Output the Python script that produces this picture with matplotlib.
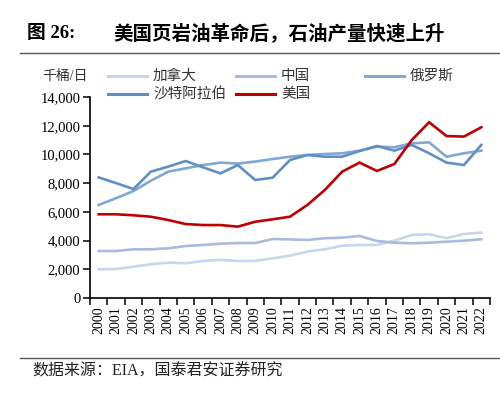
import matplotlib
matplotlib.use("Agg")
import matplotlib.pyplot as plt
from matplotlib.lines import Line2D
from matplotlib.ticker import FixedLocator, FuncFormatter

plt.rcParams["font.family"] = ["Liberation Serif", "Noto Sans CJK SC"]

years = [str(y) for y in range(2000, 2023)]
names = ["加拿大", "中国", "俄罗斯", "沙特阿拉伯", "美国"]
canada = [2000, 2020, 2180, 2350, 2460, 2420, 2580, 2650, 2580, 2580, 2760, 2950,
          3230, 3390, 3640, 3690, 3690, 3990, 4390, 4440, 4160, 4460, 4550]
china = [3270, 3270, 3390, 3390, 3460, 3620, 3690, 3780, 3830, 3830, 4110, 4080,
         4040, 4160, 4200, 4320, 3970, 3850, 3810, 3850, 3920, 3990, 4090]
russia = [6480, 6950, 7450, 8170, 8800, 9030, 9260, 9430, 9360, 9500, 9680, 9840,
          9960, 10030, 10080, 10260, 10540, 10500, 10770, 10840, 9840, 10080, 10260]
saudi = [8400, 8000, 7590, 8800, 9150, 9540, 9100, 8680, 9260, 8220, 8380, 9610,
         9960, 9840, 9840, 10240, 10590, 10260, 10660, 10080, 9430, 9260, 10660]
usa = [5830, 5830, 5760, 5660, 5430, 5150, 5080, 5080, 4970, 5310, 5480, 5660,
       6480, 7520, 8800, 9430, 8850, 9330, 11000, 12240, 11280, 11240, 11890]
series = [canada, china, russia, saudi, usa]
colors = ["#c8d6ea", "#a9badd", "#80a8d0", "#5f8fc3", "#c00000"]

fig = plt.figure(figsize=(5, 3.98), dpi=100)
ax = fig.add_axes([0.18, 0.2513, 0.80, 0.505])

x = list(range(len(years)))
for vals, c in zip(series, colors):
    ax.plot(x, vals, color=c, lw=1.9, solid_joinstyle="miter")

ax.set_xlim(-0.5, len(years) - 0.5)
ax.set_ylim(0, 14000)
ax.yaxis.set_major_locator(FixedLocator(range(0, 14001, 2000)))
ax.yaxis.set_major_formatter(FuncFormatter(lambda v, p: f"{int(v):,}"))
ax.xaxis.set_major_locator(FixedLocator([i - 0.5 for i in range(len(years) + 1)]))
ax.xaxis.set_major_formatter(FuncFormatter(lambda v, p: ""))
ax.xaxis.set_minor_locator(FixedLocator(x))
ax.set_xticklabels(years, minor=True, rotation=90, fontsize=10)
ax.tick_params(axis="x", which="minor", length=0, pad=6)
ax.tick_params(axis="x", which="major", direction="out", length=5, width=1.1)
ax.tick_params(axis="y", direction="out", length=5, width=1.1, labelsize=10.5, pad=2)
for s in ["top", "right"]:
    ax.spines[s].set_visible(False)
for s in ["left", "bottom"]:
    ax.spines[s].set_linewidth(1.2)

# title and rules
fig.text(0.054, 0.917, "图 26:", fontsize=13.5, fontweight="bold", va="center")
fig.text(0.226, 0.917, "美国页岩油革命后，石油产量快速上升", fontsize=14,
         fontweight="bold", va="center")
fig.add_artist(Line2D([0.04, 1.0], [0.867, 0.867], color="#555555", lw=1.0))
fig.add_artist(Line2D([0.04, 1.0], [0.101, 0.101], color="#555555", lw=1.0))
fig.text(0.064, 0.066, "数据来源：EIA，国泰君安证券研究", fontsize=11.5, va="center",
         color="#222222")

# unit label and legend
fig.text(0.084, 0.809, "千桶/日", fontsize=10, va="center", color="#333333")
leg_x = [0.216, 0.472, 0.730, 0.216, 0.472]
leg_y = [0.809, 0.809, 0.809, 0.763, 0.763]
for name, c, lx, ly in zip(names, colors, leg_x, leg_y):
    fig.add_artist(Line2D([lx, lx + 0.078], [ly, ly], color=c, lw=2.2))
    fig.text(lx + 0.09, ly, name, fontsize=10.5, va="center", color="#333333")

fig.savefig("out.png", dpi=100)
